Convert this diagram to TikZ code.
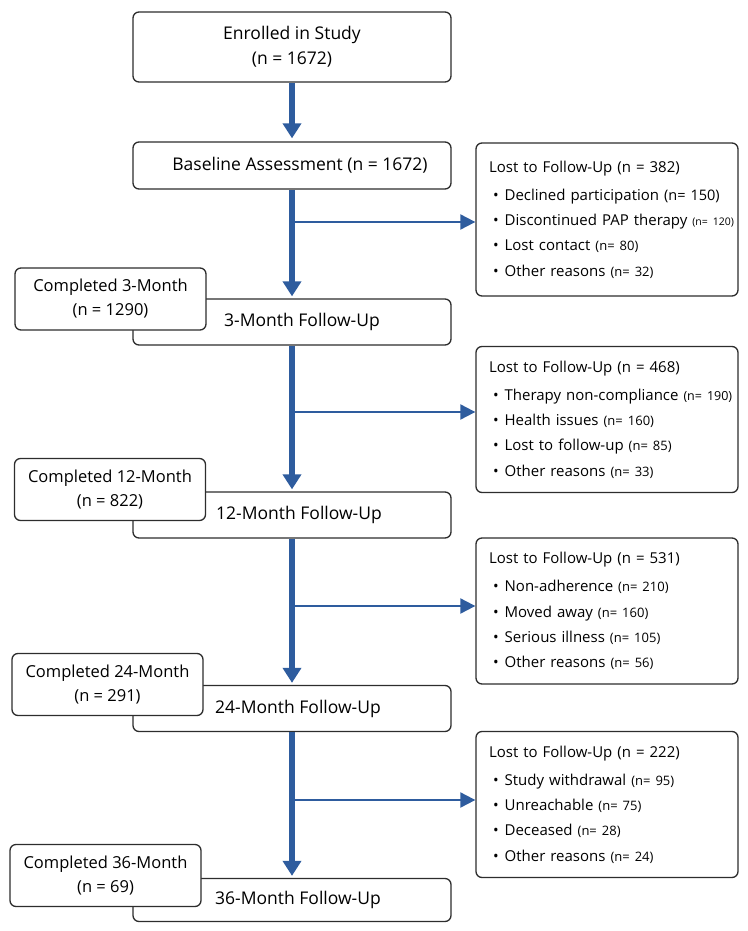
\documentclass[tikz,border=0pt]{standalone}
\usepackage{fontspec}
\setmainfont{Open Sans}
\usepackage{xcolor}
\usetikzlibrary{arrows.meta,positioning}
\definecolor{flowblue}{RGB}{46,92,158}
\definecolor{boxline}{RGB}{45,45,45}
\newcommand{\reason}[3][13]{\mbox{\hspace*{4pt}\textbullet\hspace{6pt}#2 {\fontsize{#1}{12}\selectfont(n= #3)}}}
\tikzset{
  stage/.style={
    draw=boxline,
    line width=1.3pt,
    rounded corners=6pt,
    fill=white,
    minimum width=318pt,
    minimum height=46pt,
    inner sep=0pt,
    align=center,
    font=\fontsize{17.5}{25}\selectfont
  },
  done/.style={
    draw=boxline,
    line width=1.3pt,
    rounded corners=6pt,
    fill=white,
    minimum width=191pt,
    minimum height=62pt,
    inner sep=0pt,
    align=center,
    font=\fontsize{16.5}{24}\selectfont
  },
  lost/.style={
    draw=boxline,
    line width=1.3pt,
    rounded corners=6pt,
    fill=white,
    minimum width=262pt,
    minimum height=146pt,
    inner xsep=13pt,
    text width=236pt,
    align=left,
    font=\fontsize{15}{25.3}\selectfont
  },
  mainflow/.style={-{Triangle[width=18pt,length=15pt]}, line width=6pt, draw=flowblue},
  sideflow/.style={-{Triangle[width=15pt,length=15pt]}, line width=2pt, draw=flowblue}
}

\begin{document}
\begin{tikzpicture}[x=1pt, y=-1pt]
  \useasboundingbox (0,0) rectangle (747,931);

  \node[stage, minimum height=70pt] (enrol) at (292,47) {Enrolled in Study\\(n = 1672)};
  \node[stage, minimum height=47pt] (base) at (292,165.5) {\hspace*{16pt}Baseline Assessment (n = 1672)};

  \node[stage] (m3) at (292,322) {\hspace*{20pt}3-Month Follow-Up};
  \node[stage] (m12) at (292,515) {\hspace*{14pt}12-Month Follow-Up};
  \node[stage] (m24) at (292,708.5) {\hspace*{12pt}24-Month Follow-Up};
  \node[stage, minimum height=43pt] (m36) at (292,900) {\hspace*{12pt}36-Month Follow-Up};

  \node[done] (c3) at (110.5,299) {Completed 3-Month\\(n = 1290)};
  \node[done] (c12) at (110,489.5) {Completed 12-Month\\(n = 822)};
  \node[done] (c24) at (107.5,684.5) {Completed 24-Month\\(n = 291)};
  \node[done] (c36) at (105.5,875.5) {Completed 36-Month\\(n = 69)};

  \node[lost, minimum height=153pt] (lost1) at (607,219.5) {Lost to Follow-Up (n = 382)\\[3pt]
    \reason[14.5]{Declined participation}{150}\\
    \reason[10.5]{Discontinued PAP therapy}{120}\\
    \reason{Lost contact}{80}\\
    \reason{Other reasons}{32}};
  \node[lost] (lost2) at (607,419.5) {Lost to Follow-Up (n = 468)\\[3pt]
    \reason[12.5]{Therapy non-compliance}{190}\\
    \reason{Health issues}{160}\\
    \reason{Lost to follow-up}{85}\\
    \reason{Other reasons}{33}};
  \node[lost] (lost3) at (607,611) {Lost to Follow-Up (n = 531)\\[3pt]
    \reason{Non-adherence}{210}\\
    \reason{Moved away}{160}\\
    \reason{Serious illness}{105}\\
    \reason{Other reasons}{56}};
  \node[lost] (lost4) at (607,804.5) {Lost to Follow-Up (n = 222)\\[3pt]
    \reason{Study withdrawal}{95}\\
    \reason{Unreachable}{75}\\
    \reason{Deceased}{28}\\
    \reason{Other reasons}{24}};

  \coordinate (split1) at (292,222);
  \coordinate (split2) at (292,412);
  \coordinate (split3) at (292,606);
  \coordinate (split4) at (292,800);

  \draw[sideflow] (split1) -- (split1 -| lost1.west);
  \draw[sideflow] (split2) -- (split2 -| lost2.west);
  \draw[sideflow] (split3) -- (split3 -| lost3.west);
  \draw[sideflow] (split4) -- (split4 -| lost4.west);

  \draw[mainflow, shorten >=3pt] (enrol) -- (base);
  \draw[mainflow, shorten >=2pt] (base) -- (m3);
  \draw[mainflow, shorten >=2pt] (m3) -- (m12);
  \draw[mainflow, shorten >=2pt] (m12) -- (m24);
  \draw[mainflow, shorten >=2pt] (m24) -- (m36);
\end{tikzpicture}
\end{document}
